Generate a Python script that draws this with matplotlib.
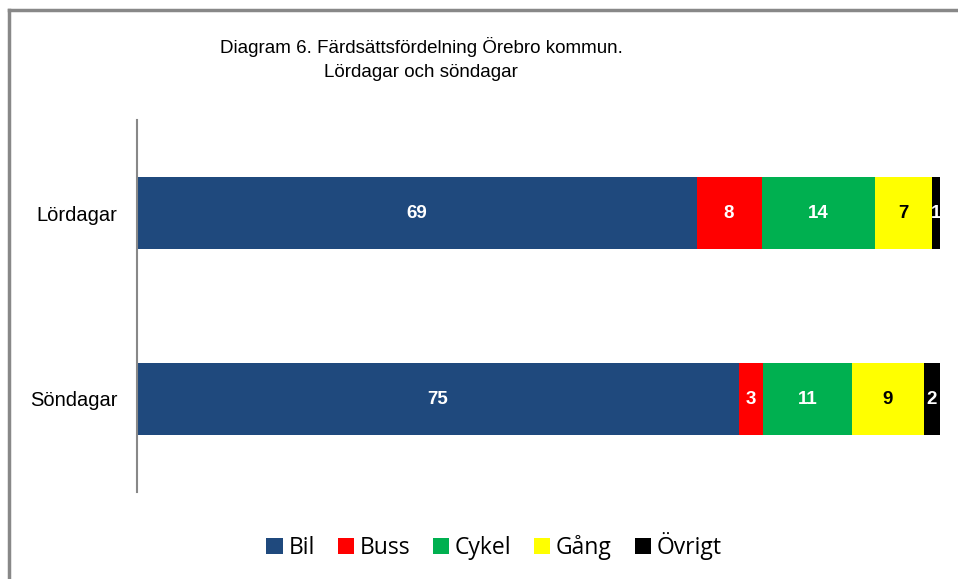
import matplotlib
matplotlib.use("Agg")
import matplotlib.pyplot as plt
from matplotlib.lines import Line2D
from matplotlib.patches import Patch
import numpy as np

categories = ["Lördagar", "Söndagar"]
series = ["Bil", "Buss", "Cykel", "Gång", "Övrigt"]
values = {
    "Bil": [69, 75],
    "Buss": [8, 3],
    "Cykel": [14, 11],
    "Gång": [7, 9],
    "Övrigt": [1, 2],
}
colors = {"Bil": "#1F497D", "Buss": "#FF0000", "Cykel": "#00B050",
          "Gång": "#FFFF00", "Övrigt": "#000000"}
label_colors = {"Bil": "white", "Buss": "white", "Cykel": "white",
                "Gång": "black", "Övrigt": "white"}
title = "Diagram 6. Färdsättsfördelning Örebro kommun.\nLördagar och söndagar"

W, H = 958, 579
fig = plt.figure(figsize=(W / 100, H / 100), dpi=100)
ax = fig.add_axes([137 / W, 1 - 492 / H, (940 - 137) / W, (492 - 120) / H])

totals = np.sum([values[s] for s in series], axis=0)
ypos = np.arange(len(categories))
left = np.zeros(len(categories))
for s in series:
    v = np.array(values[s], dtype=float)
    pct = v / totals * 100
    ax.barh(ypos, pct, left=left, height=0.39, color=colors[s], label=s)
    for i in range(len(categories)):
        ax.text(left[i] + pct[i] / 2, ypos[i], f"{values[s][i]}",
                ha="center", va="center", color=label_colors[s],
                fontsize=13.5, fontweight="bold", family="Liberation Sans")
    left += pct

ax.set_xlim(0, 100)
ax.set_ylim(len(categories) - 0.5, -0.5)
ax.set_yticks(ypos)
ax.set_yticklabels(categories, fontsize=14.5, family="Liberation Sans")
ax.tick_params(axis="y", length=0, pad=14)
ax.set_xticks([])
for sp in ["top", "right", "bottom"]:
    ax.spines[sp].set_visible(False)
ax.spines["left"].set_color("#888888")
ax.spines["left"].set_linewidth(1.5)

fig.text(421 / W, 1 - 59 / H, title, ha="center", va="center",
         fontsize=13.5, family="Liberation Sans", linespacing=1.5)

handles = [Patch(facecolor=colors[s], edgecolor="none") for s in series]
fig.legend(handles, series, loc="center", bbox_to_anchor=(494 / W, 1 - 546 / H),
           ncol=5, frameon=False, prop={"family": "Open Sans", "size": 16.5},
           handlelength=0.7, handleheight=0.7, handletextpad=0.25,
           columnspacing=1.0)

# outer frame
fig.add_artist(Line2D([8.5 / W, 8.5 / W], [0, 1 - 10 / H], color="#888888",
                      linewidth=2.5, transform=fig.transFigure))
fig.add_artist(Line2D([8.5 / W, 1], [1 - 10 / H, 1 - 10 / H], color="#888888",
                      linewidth=2.5, transform=fig.transFigure))

fig.savefig("out.png", dpi=100, facecolor="white")
